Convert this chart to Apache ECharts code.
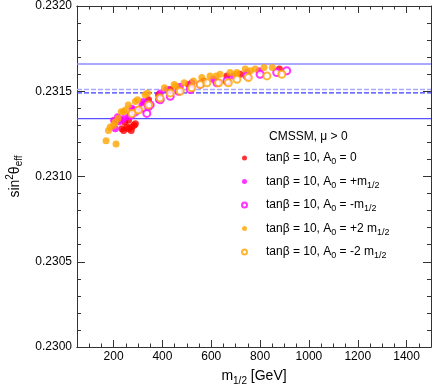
<!DOCTYPE html>
<html>
<head>
<meta charset="utf-8">
<script src="https://cdn.jsdelivr.net/npm/echarts@6/dist/echarts.min.js"></script>
<style>
  html, body { margin: 0; padding: 0; background: #fff; }
  #chart { width: 432px; height: 384px; }
</style>
</head>
<body>
<div id="chart"></div>
<script>
// m_1/2 [GeV], sin^2 theta_eff
const a0Zero = [
  [234, 0.23128], [241, 0.23127], [245, 0.23132], [255, 0.23129], [261, 0.23128],
  [261, 0.23133], [272, 0.23127], [275, 0.23129], [284, 0.23130], [289, 0.23131],
  [316, 0.23140], [329, 0.23142], [343, 0.23145], [384, 0.23148], [432, 0.23151],
  [507, 0.23154], [568, 0.23156], [664, 0.23159], [718, 0.23160], [879, 0.23163]
];
const a0PlusM = [
  [200, 0.23133], [207, 0.23128], [216, 0.23135], [220, 0.23132], [234, 0.23133],
  [241, 0.23134], [261, 0.23135], [275, 0.23140], [282, 0.23139], [295, 0.23139],
  [316, 0.23142], [322, 0.23144], [329, 0.23143], [384, 0.23145], [391, 0.23149],
  [418, 0.23151], [473, 0.23153], [520, 0.23155], [609, 0.23157], [691, 0.23159],
  [746, 0.23161], [796, 0.23162]
];
const a0MinusM = [
  [272, 0.23136], [289, 0.23138], [322, 0.23140], [336, 0.23137], [343, 0.23141],
  [350, 0.23142], [391, 0.23145], [432, 0.23147], [466, 0.23150], [514, 0.23151],
  [555, 0.23154], [623, 0.23155], [664, 0.23156], [746, 0.23159], [800, 0.23160],
  [868, 0.23161], [909, 0.23162]
];
const a0Plus2M = [
  [169, 0.23121], [210, 0.23119], [179, 0.23127], [186, 0.23129], [200, 0.23130],
  [207, 0.23132], [218, 0.23134], [231, 0.23138], [241, 0.23138], [248, 0.23139],
  [260, 0.23142], [289, 0.23144], [298, 0.23145], [329, 0.23148], [339, 0.23149],
  [408, 0.23152], [448, 0.23154], [455, 0.23153], [489, 0.23155], [527, 0.23156],
  [561, 0.23158], [595, 0.23159], [620, 0.23159], [636, 0.23160], [677, 0.23161],
  [700, 0.23160], [705, 0.23161], [739, 0.23163], [760, 0.23162], [780, 0.23163],
  [816, 0.23164], [850, 0.23164]
];
const a0Minus2M = [
  [275, 0.23137], [302, 0.23139], [343, 0.23142], [390, 0.23146], [432, 0.23149],
  [473, 0.23150], [520, 0.23152], [555, 0.23154], [582, 0.23155], [630, 0.23155],
  [670, 0.23155], [705, 0.23157], [752, 0.23158], [828, 0.23159], [889, 0.23160]
];

const seriesNames = ['A0 = 0', 'A0 = +m', 'A0 = -m', 'A0 = +2m', 'A0 = -2m'];
const legendLabels = [
  'tanβ = 10, A{sub|0} = 0',
  'tanβ = 10, A{sub|0} = +m{sub|1/2}',
  'tanβ = 10, A{sub|0} = -m{sub|1/2}',
  'tanβ = 10, A{sub|0} = +2 m{sub|1/2}',
  'tanβ = 10, A{sub|0} = -2 m{sub|1/2}'
];
const seriesData = [a0Zero, a0PlusM, a0MinusM, a0Plus2M, a0Minus2M];
const seriesColors = ['#ff0000', '#ff00ff', '#ff00ff', '#ffa500', '#ffa500'];
const seriesHollow = [false, false, true, false, true];

// measured value +- error (solid) and the two dashed central lines
const bandLines = [0.23166, 0.23151, 0.23149, 0.23134];
const bandStyles = [
  { color: '#8c8cff', width: 1.5, type: 'solid' },
  { color: '#a8a8ff', width: 1.5, type: [5, 2] },
  { color: '#3c3cff', width: 1.2, type: [5, 2] },
  { color: '#5555ff', width: 1.2, type: 'solid' }
];

const xMin = 50, xMax = 1500;
const xMajor = [200, 400, 600, 800, 1000, 1200, 1400];
const xMinor = [100, 150, 250, 300, 350, 450, 500, 550, 650, 700, 750, 850, 900, 950,
  1050, 1100, 1150, 1250, 1300, 1350, 1450];

const font = 'Liberation Sans, Arial, Helvetica, sans-serif';
const axisColor = '#333';

const xAxisBase = (pos, ticks, len, labels) => ({
  type: 'value',
  position: pos,
  min: xMin,
  max: xMax,
  axisLine: { show: true, onZero: false, lineStyle: { color: axisColor, width: 1 } },
  axisTick: { show: true, inside: true, length: len, customValues: ticks, lineStyle: { color: axisColor } },
  axisLabel: labels ? {
    show: true, customValues: xMajor, color: '#000', fontFamily: font, fontSize: 12, margin: 4,
    formatter: v => String(v)
  } : { show: false },
  splitLine: { show: false }
});

const yAxisBase = (pos, labels) => ({
  type: 'value',
  position: pos,
  min: 0.2300,
  max: 0.2320,
  interval: 0.0005,
  axisLine: { show: true, onZero: false, lineStyle: { color: axisColor, width: 1 } },
  axisTick: { show: true, inside: true, length: 8, lineStyle: { color: axisColor } },
  minorTick: { show: true, splitNumber: 5, length: 4, lineStyle: { color: axisColor } },
  axisLabel: labels ? {
    show: true, color: '#000', fontFamily: font, fontSize: 12, margin: 5,
    formatter: v => v.toFixed(4)
  } : { show: false },
  splitLine: { show: false },
  minorSplitLine: { show: false }
});

const xMain = xAxisBase('bottom', xMajor, 7, true);
xMain.name = 'm{sub|1/2} [GeV]';
xMain.nameLocation = 'middle';
xMain.nameGap = 20;
xMain.nameTextStyle = {
  color: '#000', fontFamily: font, fontSize: 14,
  rich: { sub: { fontSize: 10, fontFamily: font, padding: [9, 0, 0, 0] } }
};

const yMain = yAxisBase('left', true);
yMain.name = 'sin{sup|2}θ{sub|eff}';
yMain.nameLocation = 'middle';
yMain.nameRotate = 90;
yMain.nameGap = 48;
yMain.nameTextStyle = {
  color: '#000', fontFamily: font, fontSize: 14,
  rich: {
    sup: { fontSize: 10, fontFamily: font, padding: [0, 0, 9, 0] },
    sub: { fontSize: 10, fontFamily: font, padding: [9, 0, 0, 0] }
  }
};

// horizontal reference lines, drawn across the whole x range
const lineSeries = bandLines.map((v, i) => ({
  type: 'line',
  xAxisIndex: 0,
  yAxisIndex: 0,
  data: [[xMin, v], [xMax, v]],
  symbol: 'none',
  silent: true,
  lineStyle: bandStyles[i],
  z: 1
}));

const scatterSeries = seriesData.map((d, i) => ({
  name: seriesNames[i],
  type: 'scatter',
  xAxisIndex: 0,
  yAxisIndex: 0,
  data: d,
  symbol: seriesHollow[i] ? 'emptyCircle' : 'circle',
  symbolSize: 7,
  itemStyle: seriesHollow[i]
    ? { color: seriesColors[i], borderColor: seriesColors[i], borderWidth: 1 }
    : { color: seriesColors[i] },
  z: 3
}));

const myChart = echarts.init(document.getElementById('chart'));
myChart.setOption({
  backgroundColor: '#fff',
  animation: false,
  title: {
    text: 'CMSSM, μ > 0',
    left: 264,
    top: 126,
    textStyle: { color: '#000', fontFamily: font, fontSize: 12, fontWeight: 'normal' }
  },
  grid: { left: 77, right: 1, top: 6, bottom: 37, containLabel: false, outerBoundsMode: 'none' },
  legend: {
    orient: 'vertical',
    left: 236,
    top: 147,
    itemWidth: 33,
    itemHeight: 5,
    itemGap: 9,
    data: seriesNames.map((n, i) => ({ name: n, icon: seriesHollow[i] ? 'emptyCircle' : 'circle' })),
    formatter: name => legendLabels[seriesNames.indexOf(name)],
    textStyle: {
      color: '#000', fontFamily: font, fontSize: 12,
      rich: { sub: { fontSize: 9, fontFamily: font, padding: [8, 0, 0, 0] } }
    }
  },
  xAxis: [
    xMain,
    xAxisBase('bottom', xMinor, 3.5, false),
    xAxisBase('top', xMajor, 7, false),
    xAxisBase('top', xMinor, 3.5, false)
  ],
  yAxis: [yMain, yAxisBase('right', false)],
  series: lineSeries.concat(scatterSeries)
});
</script>
</body>
</html>
